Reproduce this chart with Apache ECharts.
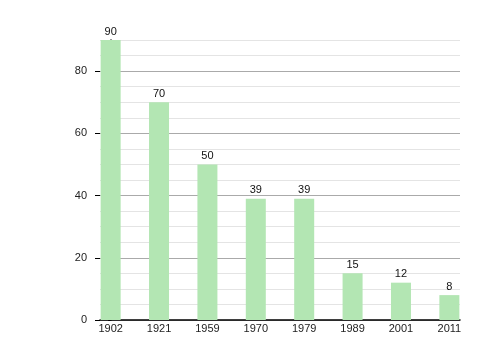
<!DOCTYPE html>
<html>
<head>
<meta charset="utf-8">
<script src="https://cdn.jsdelivr.net/npm/echarts@6/dist/echarts.min.js"></script>
<style>html,body{margin:0;padding:0;background:#fff;}#c{width:500px;height:360px;}</style>
</head>
<body>
<div id="c"></div>
<script>
var years = ['1902', '1921', '1959', '1970', '1979', '1989', '2001', '2011'];
var values = [90, 70, 50, 39, 39, 15, 12, 8];
var yMajorTicks = [0, 20, 40, 60, 80];

var font = "'Liberation Sans', Arial, sans-serif";
var chart = echarts.init(document.getElementById('c'));
chart.setOption({
  animation: false,
  backgroundColor: '#fff',
  grid: { left: 100, right: 40, top: 40, bottom: 40, containLabel: false },
  xAxis: {
    type: 'value',
    min: -0.22,
    max: years.length - 1 + 0.22,
    axisLine: { show: true, lineStyle: { color: '#000', width: 1.5 } },
    axisTick: { show: false },
    splitLine: { show: false },
    axisLabel: {
      customValues: years.map(function (y, i) { return i; }),
      formatter: function (v) { return years[Math.round(v)]; },
      color: '#222', fontSize: 11, fontFamily: font, margin: 3
    }
  },
  yAxis: [{
    type: 'value',
    min: 0, max: 90, interval: 5,
    axisLine: { show: true, lineStyle: { color: '#000', width: 1.5 } },
    axisTick: { show: true, length: 2.5, lineStyle: { color: '#000' } },
    axisLabel: {
      customValues: yMajorTicks,
      color: '#222', fontSize: 11, fontFamily: font, margin: 13
    },
    splitLine: { show: true, lineStyle: { color: ['#aaaaaa', '#e4e4e4', '#e4e4e4', '#e4e4e4'], width: 1 } }
  }, {
    type: 'value',
    position: 'left',
    min: 0, max: 90, interval: 20,
    axisLine: { show: false },
    axisTick: { show: true, length: 5, customValues: yMajorTicks, lineStyle: { color: '#000' } },
    axisLabel: { show: false },
    splitLine: { show: false }
  }],
  series: [{
    type: 'bar',
    xAxisIndex: 0,
    yAxisIndex: 0,
    barWidth: 20,
    itemStyle: { color: '#b3e6b3' },
    label: { show: true, position: 'top', distance: 3, color: '#111', fontSize: 11, fontFamily: font },
    data: values.map(function (v, i) { return [i, v]; })
  }]
});
</script>
</body>
</html>
